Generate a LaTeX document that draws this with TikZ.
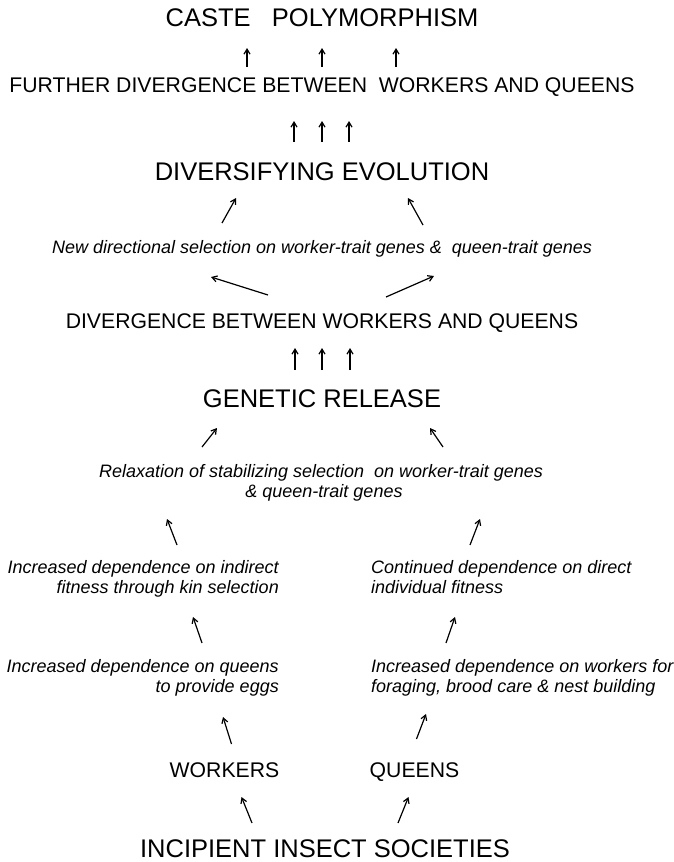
\documentclass[tikz,border=0pt]{standalone}
\usepackage{fontspec}
\setmainfont{Liberation Sans}
\usetikzlibrary{arrows.meta}

\tikzset{
	big/.style={font=\fontsize{25.5}{30}\selectfont, anchor=base, inner sep=0pt},
	mid/.style={font=\fontsize{21.2}{26}\selectfont, anchor=base, inner sep=0pt},
	note/.style={font=\fontsize{18}{22}\selectfont\itshape, anchor=base, inner sep=0pt},
	arr/.style={-{Straight Barb[length=5pt,width=6pt]}, line width=1.2pt},
}

\begin{document}
\begin{tikzpicture}[x=1pt,y=-1pt]
	\useasboundingbox (0,0) rectangle (673,862);

	% upper part
	\node[big] (caste) at (322,27) {CASTE\ \ \ POLYMORPHISM};
	\node[mid] (further) at (322,92) {FURTHER DIVERGENCE BETWEEN\ \ WORKERS AND QUEENS};
	\node[big] (divers) at (322,180) {DIVERSIFYING EVOLUTION};
	\node[note] (newdir) at (322,253) {New directional selection on worker-trait genes \&\ \ queen-trait genes};
	\node[mid] (diverg) at (322,328) {DIVERGENCE BETWEEN WORKERS AND QUEENS};
	\node[big] (genetic) at (322,407) {GENETIC RELEASE};
	\node[note] (relaxa) at (321,477) {Relaxation of stabilizing selection\ \ on worker-trait genes};
	\node[note] (relaxb) at (324,497) {\& queen-trait genes};

	% left column
	\node[note, anchor=base east] (indira) at (279,573) {Increased dependence on indirect};
	\node[note, anchor=base east] (indirb) at (279,593) {fitness through kin selection};
	\node[note, anchor=base east] (eggsa) at (279,672) {Increased dependence on queens};
	\node[note, anchor=base east] (eggsb) at (279,692) {to provide eggs};
	\node[mid] (workers) at (224.5,777) {WORKERS};

	% right column
	\node[note, anchor=base west] (conta) at (371,573) {Continued dependence on direct};
	\node[note, anchor=base west] (contb) at (371,593) {individual fitness};
	\node[note, anchor=base west] (foraga) at (371,672) {Increased dependence on workers for};
	\node[note, anchor=base west] (foragb) at (371,692) {foraging, brood care \& nest building};
	\node[mid] (queens) at (414.5,777) {QUEENS};

	\node[big] (incip) at (325,857) {INCIPIENT INSECT SOCIETIES};

	% straight arrows
	\foreach \dx in {-75,0,74}
		\draw[arr] ([shift={(\dx,-25)}]further.base) -- ([shift={(\dx,21)}]caste.base);
	\foreach \dx in {-28,0,27}
		\draw[arr] ([shift={(\dx,-38)}]divers.base) -- ([shift={(\dx,29)}]further.base);
	\foreach \dx in {-27,0,28}
		\draw[arr] ([shift={(\dx,-37)}]genetic.base) -- ([shift={(\dx,20)}]diverg.base);

	% slanted arrows
	\draw[arr] ([shift={(-100,-30)}]newdir.base) -- ([shift={(-86,18)}]divers.base);
	\draw[arr] ([shift={(101,-28)}]newdir.base) -- ([shift={(86,18)}]divers.base);
	\draw[arr] ([shift={(-54,-33)}]diverg.base) -- ([shift={(-111,24)}]newdir.base);
	\draw[arr] ([shift={(64,-31)}]diverg.base) -- ([shift={(112,23)}]newdir.base);
	\draw[arr] ([shift={(-119,-30)}]relaxa.base) -- ([shift={(-105,21)}]genetic.base);
	\draw[arr] ([shift={(122,-30)}]relaxa.base) -- ([shift={(108,21)}]genetic.base);
	\draw[arr] ([shift={(-102,-28)}]indira.base east) -- ([shift={(-157,22)}]relaxb.base);
	\draw[arr] ([shift={(99,-28)}]conta.base west) -- ([shift={(156,22)}]relaxb.base);
	\draw[arr] ([shift={(-77,-29)}]eggsa.base east) -- ([shift={(-86,24)}]indirb.base east);
	\draw[arr] ([shift={(75,-29)}]foraga.base west) -- ([shift={(84,24)}]contb.base west);
	\draw[arr] ([shift={(7,-33)}]workers.base) -- ([shift={(-56,25)}]eggsb.base east);
	\draw[arr] ([shift={(2,-38)}]queens.base) -- ([shift={(55,22)}]foragb.base west);
	\draw[arr] ([shift={(-73,-34)}]incip.base) -- ([shift={(17,20)}]workers.base);
	\draw[arr] ([shift={(73,-34)}]incip.base) -- ([shift={(-6,20)}]queens.base);

\end{tikzpicture}
\end{document}
